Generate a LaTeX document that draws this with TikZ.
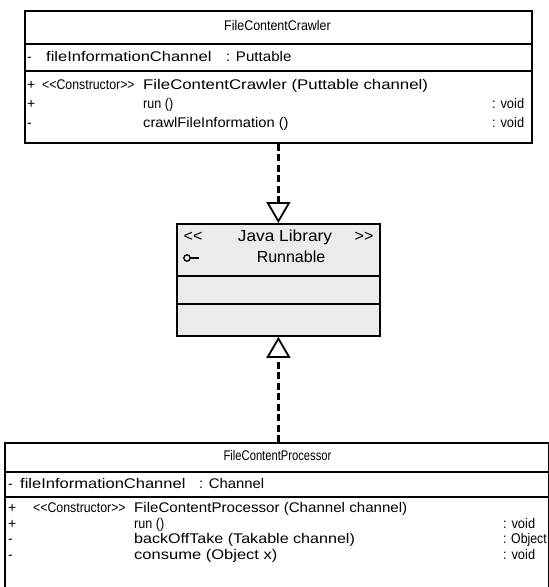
\documentclass[tikz,border=0pt]{standalone}
\usepackage{fontspec}
\setmainfont{Liberation Sans}
\usetikzlibrary{arrows.meta}
\newcommand{\hsq}[2]{\scalebox{#1}[1]{#2}}
\begin{document}
\begin{tikzpicture}[x=1pt,y=-1pt,
  classbox/.style={draw=black, line width=1.8pt, inner sep=0pt, fill=white},
  libbox/.style={draw=black, line width=1.8pt, inner sep=0pt, fill=black!8},
  sepline/.style={draw=black, line width=1.4pt},
  mtxt/.style={inner sep=0pt, anchor=west, font=\fontsize{14}{16}\selectfont, text height=10pt, text depth=3pt},
  ttxt/.style={inner sep=0pt, anchor=center, font=\fontsize{14}{16}\selectfont, text height=10pt, text depth=3pt},
  jtxt/.style={inner sep=0pt, anchor=center, font=\fontsize{16}{18}\selectfont, text height=11.5pt, text depth=3.4pt},
  realize/.style={draw=black, line width=2.3pt, dash pattern=on 7pt off 3.5pt, -{Triangle[open, length=21pt, width=24pt, line width=1.8pt]}}
]
\useasboundingbox (0,0) rectangle (549,587);

% ---------- FileContentCrawler ----------
\node[classbox, minimum width=507pt, minimum height=132pt, anchor=north west] (crawler) at (24,10) {};
\draw[sepline] (24,44) -- (531,44);
\draw[sepline] (24,71) -- (531,71);
\node[ttxt] (ctitle) at (277.5,27) {\hsq{0.89}{FileContentCrawler}};
\node[mtxt] (ca0) at (27,57.5) {-};
\node[mtxt] (ca1) at (46,57.5) {\hsq{1.18}{fileInformationChannel}};
\node[mtxt] (ca2) at (226,57.5) {\hsq{1.08}{: Puttable}};
\node[mtxt] (cm1v) at (27,86) {+};
\node[mtxt] (cm1s) at (42,86) {\hsq{0.88}{<\kern0pt<Constructor>\kern0pt>}};
\node[mtxt] (cm1n) at (143,86) {\hsq{1.2}{FileContentCrawler (Puttable channel)}};
\node[mtxt] (cm2v) at (27,105) {+};
\node[mtxt] (cm2n) at (143,105) {\hsq{0.9}{run ()}};
\node[mtxt] (cm2t) at (492,105) {\hsq{0.92}{: void}};
\node[mtxt] (cm3v) at (27,124) {-};
\node[mtxt] (cm3n) at (143,124) {\hsq{1.05}{crawlFileInformation ()}};
\node[mtxt] (cm3t) at (492,124) {\hsq{0.92}{: void}};

% ---------- Runnable (Java Library) ----------
\node[libbox, minimum width=203pt, minimum height=112pt, anchor=north west] (java) at (176,223) {};
\draw[sepline] (176,276) -- (379,276);
\draw[sepline] (176,304) -- (379,304);
\node[jtxt] (jl) at (193,237) {<\kern0pt<};
\node[jtxt] (jname) at (285,237) {\hsq{1.08}{Java Library}};
\node[jtxt] (jr) at (364,237) {>\kern0pt>};
\draw[line width=1.3pt] (187,258) circle (3.2pt);
\draw[line width=1.5pt] (190.2,258) -- (199,258);
\node[jtxt] (jrun) at (291,258) {Runnable};

% ---------- FileContentProcessor ----------
\node[classbox, minimum width=544pt, minimum height=160pt, anchor=north west] (processor) at (4,442) {};
\draw[sepline] (4,472) -- (548,472);
\draw[sepline] (4,497) -- (548,497);
\node[ttxt] (ptitle) at (277.5,457) {\hsq{0.8}{FileContentProcessor}};
\node[mtxt] (pa0) at (8,484.5) {-};
\node[mtxt] (pa1) at (20,484.5) {\hsq{1.18}{fileInformationChannel}};
\node[mtxt] (pa2) at (199,484.5) {\hsq{1.06}{: Channel}};
\node[mtxt] (pm1v) at (8,509) {+};
\node[mtxt] (pm1s) at (33,509) {\hsq{0.88}{<\kern0pt<Constructor>\kern0pt>}};
\node[mtxt] (pm1n) at (134,509) {\hsq{1.08}{FileContentProcessor (Channel channel)}};
\node[mtxt] (pm2v) at (8,524.5) {+};
\node[mtxt] (pm2n) at (134,524.5) {\hsq{0.9}{run ()}};
\node[mtxt] (pm2t) at (503,524.5) {\hsq{0.92}{: void}};
\node[mtxt] (pm3v) at (8,540) {-};
\node[mtxt] (pm3n) at (134,540) {\hsq{1.15}{backOffTake (Takable channel)}};
\node[mtxt] (pm3t) at (503,540) {\hsq{0.88}{: Object}};
\node[mtxt] (pm4v) at (8,555.5) {-};
\node[mtxt] (pm4n) at (134,555.5) {\hsq{1.18}{consume (Object x)}};
\node[mtxt] (pm4t) at (503,555.5) {\hsq{0.92}{: void}};

% ---------- realizations ----------
\draw[realize] (crawler.south) -- (java.north);
\draw[realize] (processor.north -| java.south) -- (java.south);
\end{tikzpicture}
\end{document}
